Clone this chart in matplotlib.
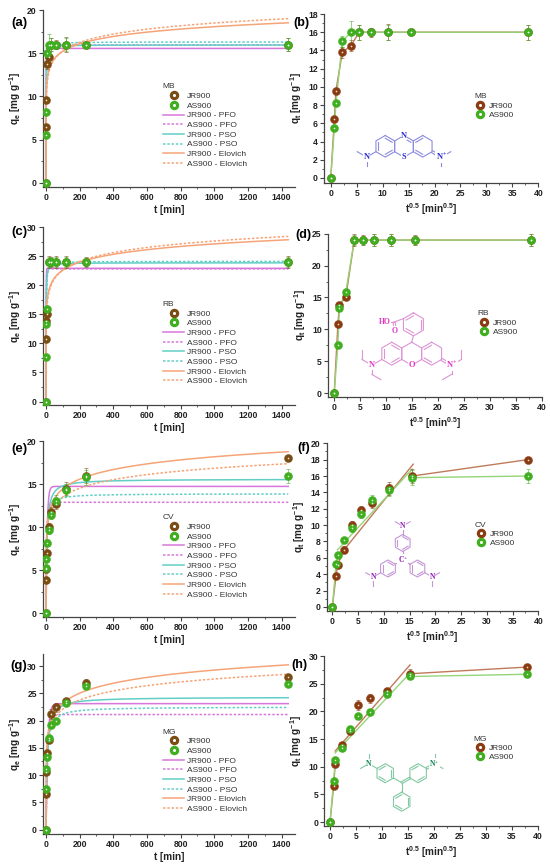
import numpy as np
import matplotlib
matplotlib.use('Agg')
import matplotlib.pyplot as plt
from matplotlib.lines import Line2D
from matplotlib.ticker import MultipleLocator

plt.rcParams['font.family'] = ['Liberation Sans', 'DejaVu Sans']
plt.rcParams['mathtext.fontset'] = 'custom'
plt.rcParams['mathtext.rm'] = 'Liberation Sans'
plt.rcParams['mathtext.bf'] = 'Liberation Sans:bold'
plt.rcParams['mathtext.default'] = 'regular'

# ---------------- data ----------------
t_min = [0, 0.5, 1, 5, 15, 30, 60, 120, 240, 1440]
dyes = ['MB', 'RB', 'CV', 'MG']
panel_left = ['(a)', '(c)', '(e)', '(g)']
panel_right = ['(b)', '(d)', '(f)', '(h)']

MB_JR = [0, 6.5, 9.6, 13.8, 14.5, 16.0, 16.0, 16.0, 16.0, 16.0]
MB_AS = [0, 5.5, 8.2, 15.0, 16.0, 16.0, 16.0, 16.0, 16.0, 16.0]
RB_JR = [0, 10.8, 13.8, 15.1, 24.0, 24.0, 24.0, 24.0, 24.0, 24.0]
RB_AS = [0, 7.6, 13.4, 15.9, 24.0, 24.0, 24.0, 24.0, 24.0, 24.0]
CV_JR = [0, 3.8, 5.1, 7.0, 10.0, 11.8, 12.7, 14.5, 16.0, 18.0]
CV_AS = [0, 5.2, 6.3, 8.2, 9.7, 11.4, 13.1, 14.3, 15.8, 16.0]
MG_JR = [0, 6.6, 10.5, 14.0, 16.5, 21.2, 22.4, 23.6, 26.8, 28.0]
MG_AS = [0, 7.5, 11.2, 13.4, 16.8, 19.1, 19.9, 23.2, 26.3, 26.7]

MB_JR_err = [0, 0.3, 0.3, 0.6, 0.6, 0.8, 0.5, 0.9, 0.3, 0.8]
MB_AS_err = [0, 0.3, 0.3, 0.6, 1.2, 0.8, 0.4, 0.8, 0.3, 0.8]
RB_JR_err = [0, 0.4, 0.4, 0.4, 1.0, 0.8, 1.0, 1.0, 0.8, 1.0]
RB_AS_err = [0, 0.4, 0.4, 0.4, 0.8, 0.7, 0.9, 0.9, 0.7, 0.9]
CV_JR_err = [0, 0.3, 0.3, 0.4, 0.5, 0.5, 0.6, 0.8, 0.9, 0.3]
CV_AS_err = [0, 0.3, 0.3, 0.4, 0.5, 0.5, 0.6, 0.7, 0.9, 0.8]
MG_JR_err = [0, 0.3, 0.4, 0.5, 0.5, 0.9, 0.8, 0.6, 0.9, 0.4]
MG_AS_err = [0, 0.3, 0.4, 0.5, 0.5, 0.5, 0.5, 0.5, 0.5, 0.5]

# kinetic model parameters (per dye: MB, RB, CV, MG)
PFO_qe_JR = [15.55, 22.9, 14.75, 23.1]
PFO_k1_JR = [1.0, 1.2, 0.15, 0.10]
PFO_qe_AS = [15.95, 22.8, 12.9, 21.1]
PFO_k1_AS = [0.75, 0.9, 0.20, 0.10]
PSO_qe_JR = [15.95, 23.85, 15.6, 24.3]
PSO_k2_JR = [0.10, 0.06, 0.012, 0.006]
PSO_qe_AS = [16.3, 24.1, 13.9, 22.5]
PSO_k2_AS = [0.07, 0.045, 0.02, 0.007]
ELO_a_JR = [2800, 2070, 122, 177]
ELO_b_JR = [0.81, 0.512, 0.617, 0.38]
ELO_a_AS = [785, 690, 164, 241]
ELO_b_AS = [0.716, 0.459, 0.69, 0.417]

# intraparticle diffusion fits (None = points simply joined)
IPD_JR = [None, None, (0.78, 5.2, 2.24, 15.7), (1.08, 11.75, 1.0, 15.4)]
IPD_AS = [None, None, (0.68, 6.3, 1.0, 15.5), (1.0, 11.5, 1.0, 15.5)]
IPD_first_end_JR = [None, None, 3, 2]
IPD_first_end_AS = [None, None, 2, 2]

JR_data = [MB_JR, RB_JR, CV_JR, MG_JR]
AS_data = [MB_AS, RB_AS, CV_AS, MG_AS]
JR_err = [MB_JR_err, RB_JR_err, CV_JR_err, MG_JR_err]
AS_err = [MB_AS_err, RB_AS_err, CV_AS_err, MG_AS_err]

# ---------------- styles ----------------
C_JR_L = '#7a4c14'
C_JR_R = '#8a3b12'
C_AS = '#3fae1f'
C_PFO = '#d876dc'
C_PSO = '#62cfc6'
C_ELO = '#f5a478'
DASH = (0, (1.6, 1.2))
TXT = '#333333'

W, H = 550, 868
fig = plt.figure(figsize=(W / 100, H / 100), dpi=100)


def add_ax(L, R, T, B):
    return fig.add_axes([L / W, 1 - B / H, (R - L) / W, (B - T) / H])


def style_ax(ax):
    for s in ['top', 'right']:
        ax.spines[s].set_visible(False)
    for s in ['left', 'bottom']:
        ax.spines[s].set_linewidth(0.9)
        ax.spines[s].set_color('#444444')
    ax.tick_params(which='major', direction='out', length=3, width=0.8,
                   labelsize=6.2, pad=1.5, colors='#444444', labelcolor='#222222')
    ax.tick_params(which='minor', direction='out', length=1.5, width=0.6, colors='#444444')
    for lab in ax.get_xticklabels() + ax.get_yticklabels():
        lab.set_fontweight('bold')


def sphere(ax, x, y, c, err):
    ax.errorbar(x, y, yerr=err, fmt='none', ecolor=c, elinewidth=0.7,
                capsize=1.6, capthick=0.7, alpha=0.55, zorder=4)
    ax.plot(x, y, 'o', color=c, ms=5.8, mec=c, mew=0.3, zorder=5, ls='none')
    ax.plot(x, y, 'o', color='white', ms=1.2, mew=0, alpha=0.85, zorder=6, ls='none')


def sphere_handle(c):
    return (Line2D([], [], marker='o', color=c, ms=5.8, ls='none'),
            Line2D([], [], marker='o', color='white', ms=1.2, ls='none'))


left_boxes = [(43, 295, 10, 187, (-0.5, 20), 5),
              (43, 295, 227, 405, (-0.6, 30), 5),
              (43, 295, 441.3, 617, (-0.45, 20), 5),
              (43, 295, 654, 834, (-0.8, 32.2), 5)]
right_boxes = [(324, 538.3, 14, 183, (-1.3, 40), (-0.55, 18), 2),
               (328, 541.7, 233.7, 397, (-1.2, 40), (-0.6, 25), 5),
               (326.7, 538.3, 443.3, 611, (-1.1, 40), (-0.5, 20), 2),
               (324.3, 537.7, 656, 826, (-1.1, 40), (-0.7, 30), 5)]
lab_left_pos = [(19, 23), (19, 232), (19, 449), (19, 666)]
lab_right_pos = [(301, 23), (303, 235), (304, 448), (299, 665)]

tt = np.concatenate([np.linspace(0, 20, 600), np.linspace(20, 1440, 600)])
t_arr = np.array(t_min, dtype=float)
s_arr = np.sqrt(t_arr)

for i, dye in enumerate(dyes):
    # ---------- left: kinetics ----------
    L, R, T, B, ylim, ystep = left_boxes[i]
    ax = add_ax(L, R, T, B)
    pfo_j = PFO_qe_JR[i] * (1 - np.exp(-PFO_k1_JR[i] * tt))
    pfo_a = PFO_qe_AS[i] * (1 - np.exp(-PFO_k1_AS[i] * tt))
    pso_j = PSO_qe_JR[i] ** 2 * PSO_k2_JR[i] * tt / (1 + PSO_qe_JR[i] * PSO_k2_JR[i] * tt)
    pso_a = PSO_qe_AS[i] ** 2 * PSO_k2_AS[i] * tt / (1 + PSO_qe_AS[i] * PSO_k2_AS[i] * tt)
    elo_j = np.log(1 + ELO_a_JR[i] * ELO_b_JR[i] * tt) / ELO_b_JR[i]
    elo_a = np.log(1 + ELO_a_AS[i] * ELO_b_AS[i] * tt) / ELO_b_AS[i]
    ax.plot(tt, pfo_j, color=C_PFO, lw=1.1, zorder=2)
    ax.plot(tt, pfo_a, color=C_PFO, lw=1.1, ls=DASH, zorder=2)
    ax.plot(tt, pso_j, color=C_PSO, lw=1.1, zorder=2)
    ax.plot(tt, pso_a, color=C_PSO, lw=1.1, ls=DASH, zorder=2)
    ax.plot(tt, elo_j, color=C_ELO, lw=1.1, zorder=2)
    ax.plot(tt, elo_a, color=C_ELO, lw=1.1, ls=DASH, zorder=2)
    sphere(ax, t_arr, JR_data[i], C_JR_L, JR_err[i])
    sphere(ax, t_arr, AS_data[i], C_AS, AS_err[i])
    ax.set_xlim(-18, 1480)
    ax.xaxis.set_major_locator(MultipleLocator(200))
    ax.xaxis.set_minor_locator(MultipleLocator(100))
    ax.set_yticks(np.arange(0, ylim[1] + 0.01, ystep))
    ax.yaxis.set_minor_locator(MultipleLocator(ystep / 2))
    ax.set_ylim(*ylim)
    style_ax(ax)
    ax.set_xlabel('t [min]', fontsize=7.2, fontweight='bold', labelpad=2, color='#222222')
    ax.set_ylabel('q$_e$ [mg g$^{-1}$]', fontsize=7.2, fontweight='bold', labelpad=3, color='#222222')
    handles = [sphere_handle(C_JR_L), sphere_handle(C_AS),
               Line2D([], [], color=C_PFO, lw=1.1), Line2D([], [], color=C_PFO, lw=1.1, ls=DASH),
               Line2D([], [], color=C_PSO, lw=1.1), Line2D([], [], color=C_PSO, lw=1.1, ls=DASH),
               Line2D([], [], color=C_ELO, lw=1.1), Line2D([], [], color=C_ELO, lw=1.1, ls=DASH)]
    labels = ['JR900', 'AS900', 'JR900 - PFO', 'AS900 - PFO', 'JR900 - PSO',
              'AS900 - PSO', 'JR900 - Elovich', 'AS900 - Elovich']
    leg = ax.legend(handles, labels, title=dye, loc='upper left', bbox_to_anchor=(0.475, 0.585),
                    frameon=False, fontsize=6, title_fontsize=6, handlelength=2.6,
                    handletextpad=0.3, labelspacing=0.22, borderpad=0, borderaxespad=0,
                    alignment='left')
    for txt in leg.get_texts():
        txt.set_color(TXT)
    leg.get_title().set_color(TXT)
    fig.text(lab_left_pos[i][0] / W, 1 - lab_left_pos[i][1] / H, panel_left[i],
             fontsize=9.5, fontweight='bold', ha='center', va='center')

    # ---------- right: intraparticle diffusion ----------
    L, R, T, B, xlim, ylim, ystep = right_boxes[i]
    ax = add_ax(L, R, T, B)
    jr = np.array(JR_data[i])
    asd = np.array(AS_data[i])
    for data, fit, fend, col in [(jr, IPD_JR[i], IPD_first_end_JR[i], '#c07a5a'),
                                 (asd, IPD_AS[i], IPD_first_end_AS[i], '#95d477')]:
        if fit is None:
            ax.plot(s_arr, data, color=col, lw=1.0, zorder=2)
        else:
            k, c0, s0, s1 = fit
            ax.plot(s_arr[:fend + 1], data[:fend + 1], color=col, lw=1.0, zorder=2)
            ss = np.array([s0, s1])
            ax.plot(ss, k * ss + c0, color=col, lw=1.0, zorder=2)
            ax.plot(s_arr[8:], data[8:], color=col, lw=1.0, zorder=2)
    sphere(ax, s_arr, jr, C_JR_R, JR_err[i])
    sphere(ax, s_arr, asd, C_AS, AS_err[i])
    ax.set_xlim(*xlim)
    ax.xaxis.set_major_locator(MultipleLocator(5))
    ax.xaxis.set_minor_locator(MultipleLocator(2.5))
    ax.set_yticks(np.arange(0, ylim[1] + 0.01, ystep))
    ax.yaxis.set_minor_locator(MultipleLocator(ystep / 2))
    ax.set_ylim(*ylim)
    style_ax(ax)
    ax.set_xlabel('t$^{0.5}$ [min$^{0.5}$]', fontsize=7.2, fontweight='bold', labelpad=2, color='#222222')
    ax.set_ylabel('q$_t$ [mg g$^{-1}$]', fontsize=7.2, fontweight='bold', labelpad=3, color='#222222')
    leg = ax.legend([sphere_handle(C_JR_R), sphere_handle(C_AS)], ['JR900', 'AS900'], title=dye,
                    loc='upper left', bbox_to_anchor=(0.70, 0.53), frameon=False, fontsize=6,
                    title_fontsize=6, handlelength=1.5, handletextpad=0.3, labelspacing=0.15,
                    borderpad=0, borderaxespad=0, alignment='left')
    for txt in leg.get_texts():
        txt.set_color(TXT)
    leg.get_title().set_color(TXT)
    fig.text(lab_right_pos[i][0] / W, 1 - lab_right_pos[i][1] / H, panel_right[i],
             fontsize=9, fontweight='bold', ha='center', va='center')


# ---------------- molecule sketches ----------------
def mol_ax(cx, cy, s, half_w=70, half_h=50):
    x0, x1, y0, y1 = cx - half_w, cx + half_w, cy - half_h, cy + half_h
    a = fig.add_axes([x0 / W, 1 - y1 / H, (x1 - x0) / W, (y1 - y0) / H])
    a.set_xlim((x0 - cx) / s, (x1 - cx) / s)
    a.set_ylim((cy - y1) / s, (cy - y0) / s)
    a.axis('off')
    a.patch.set_alpha(0)
    return a


def u(deg):
    return np.array([np.cos(np.deg2rad(deg)), np.sin(np.deg2rad(deg))])


def ring(a, c, a0, col, dbl=(), lw=0.8):
    c = np.array(c, dtype=float)
    p = np.array([c + u(a0 + 60 * k) for k in range(6)])
    a.plot(np.r_[p[:, 0], p[0, 0]], np.r_[p[:, 1], p[0, 1]], color=col, lw=lw, zorder=2)
    for e in dbl:
        p1, p2 = c + (p[e] - c) * 0.74, c + (p[(e + 1) % 6] - c) * 0.74
        a.plot([p1[0], p2[0]], [p1[1], p2[1]], color=col, lw=lw, zorder=2)
    return p


def bond(a, p, q, col, double=False, lw=0.8):
    p, q = np.array(p, float), np.array(q, float)
    if double:
        d = q - p
        n = np.array([-d[1], d[0]]) / np.hypot(*d) * 0.1
        for sgn in (-1, 1):
            a.plot([p[0] + sgn * n[0], q[0] + sgn * n[0]], [p[1] + sgn * n[1], q[1] + sgn * n[1]],
                   color=col, lw=lw, zorder=2)
    else:
        a.plot([p[0], q[0]], [p[1], q[1]], color=col, lw=lw, zorder=2)


def atom(a, p, txt, col, fs=6):
    a.text(p[0], p[1], txt, color=col, fontsize=fs, ha='center', va='center',
           family=['Liberation Serif', 'DejaVu Serif'], fontweight='bold', zorder=5,
           bbox=dict(fc='white', ec='none', pad=0.3))


# Methylene blue
lc, tc = '#8c8cdc', '#2b2bd0'
a = mol_ax(404, 146.3, 10.8)
r3 = np.sqrt(3)
pl = ring(a, (-r3, 0), 90, lc, dbl=[1, 3, 5])
pm = ring(a, (0, 0), 90, lc, dbl=[5])
pr = ring(a, (r3, 0), 90, lc, dbl=[0, 2])
nL = pl[2] + u(210)
bond(a, pl[2], nL, lc)
bond(a, nL, nL + u(150), lc)
bond(a, nL, nL + u(270) * 0.8, lc)
nR = pr[4] + u(330)
bond(a, pr[4], nR, lc, double=True)
bond(a, nR, nR + u(30), lc)
bond(a, nR, nR + u(270) * 0.8, lc)
atom(a, pm[0], 'N', tc)
atom(a, pm[3], 'S', tc)
atom(a, nL, 'N', tc)
atom(a, nR, 'N$^{+}$', tc)

# Rhodamine B
lc, tc = '#dc94d4', '#e034c4'
a = mol_ax(411.7, 353.7, 11.5)
pl = ring(a, (-r3, 0), 90, lc, dbl=[1, 3, 5])
pm = ring(a, (0, 0), 90, lc)
pr = ring(a, (r3, 0), 90, lc, dbl=[0, 2])
ph_c = np.array([0.15, 2.55])
bond(a, pm[0], ph_c + u(270), lc)
pp = ring(a, ph_c, 90, lc, dbl=[0, 2, 4])
cc = pp[1] + u(200) * 0.85
bond(a, pp[1], cc, lc)
ho = cc + u(180) * 0.85
bond(a, cc, ho, lc)
oo = cc + u(275) * 0.75
bond(a, cc, oo, lc, double=True)
atom(a, ho, 'HO', tc, fs=5.5)
atom(a, oo, 'O', tc, fs=5.5)
atom(a, pm[3], 'O', tc)
nL = pl[2] + u(210)
bond(a, pl[2], nL, lc)
e1 = nL + u(150)
bond(a, nL, e1, lc)
bond(a, e1, e1 + u(90) * 0.8, lc)
e2 = nL + u(270) * 0.8
bond(a, nL, e2, lc)
bond(a, e2, e2 + u(330) * 0.9, lc)
nR = pr[4] + u(330)
bond(a, pr[4], nR, lc, double=True)
e3 = nR + u(30)
bond(a, nR, e3, lc)
bond(a, e3, e3 + u(90) * 0.8, lc)
e4 = nR + u(270) * 0.8
bond(a, nR, e4, lc)
bond(a, e4, e4 + u(210) * 0.9, lc)
atom(a, nL, 'N', tc)
atom(a, nR, 'N$^{+}$', tc)

# Crystal violet
lc, tc = '#c496d6', '#9322b4'
a = mol_ax(402.7, 560, 8.5)
C0 = np.array([0.0, 0.0])
for th in (90, 210, 330):
    cen = C0 + u(th) * 2.0
    p = ring(a, cen, th + 180, lc, dbl=[0, 2, 4])
    bond(a, C0, p[0], lc)
    nN = cen + u(th) * 2.0
    bond(a, p[3], nN, lc)
    bond(a, nN, nN + u(th + 60), lc)
    bond(a, nN, nN + u(th - 60), lc)
    atom(a, nN, 'N', tc, fs=5.5)
atom(a, C0, 'C$^{+}$', tc, fs=5.5)

# Malachite green
lc, tc = '#82c8a2', '#12885a'
a = mol_ax(401.7, 782.7, 9.5)
C0 = np.array([0.0, 0.0])
for th, dbl, dC, lab in [(150, [0, 2, 4], False, 'N'), (30, [1, 4], True, 'N$^{+}$'),
                         (270, [0, 2, 4], False, None)]:
    cen = C0 + u(th) * 2.0
    p = ring(a, cen, th + 180, lc, dbl=dbl)
    bond(a, C0, p[0], lc, double=dC)
    if lab is not None:
        nN = cen + u(th) * 2.0
        bond(a, p[3], nN, lc, double=dC)
        bond(a, nN, nN + u(th + 60), lc)
        bond(a, nN, nN + u(th - 60), lc)
        atom(a, nN, lab, tc, fs=5.5)

fig.savefig('out.png', dpi=100)
